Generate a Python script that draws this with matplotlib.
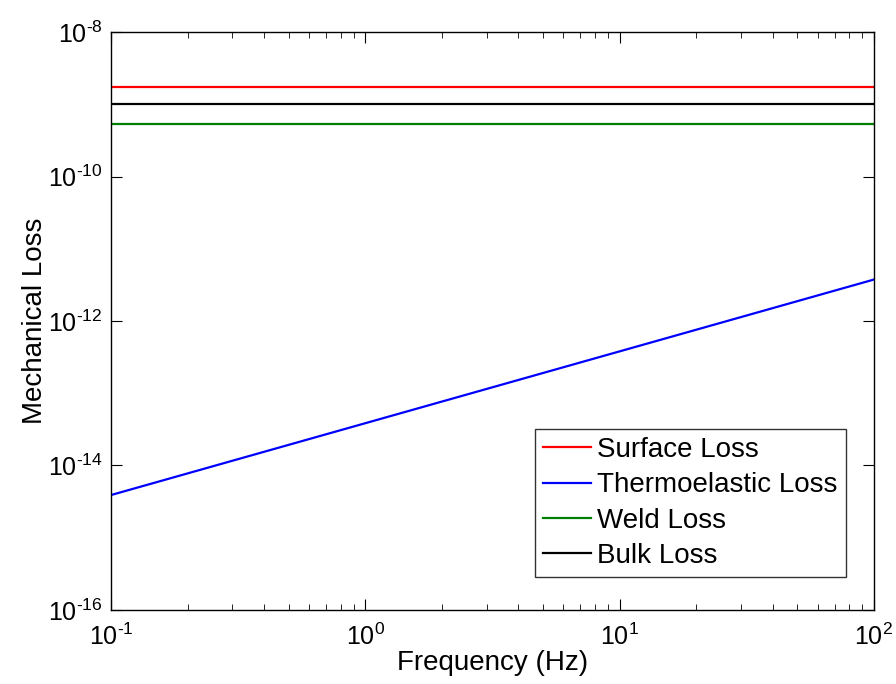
import matplotlib
matplotlib.use("Agg")
import matplotlib.pyplot as plt
from matplotlib.ticker import LogLocator, NullLocator, FuncFormatter
import numpy as np

plt.rcParams["font.family"] = "Liberation Sans"
plt.rcParams["mathtext.fontset"] = "custom"
plt.rcParams["mathtext.rm"] = "Liberation Sans"
plt.rcParams["mathtext.it"] = "Liberation Sans"

freq = [0.1, 1.0, 10.0, 100.0]
surface_loss = [1.73e-9, 1.73e-9, 1.73e-9, 1.73e-9]
thermo_loss = [3.9e-15, 3.85e-14, 3.8e-13, 3.75e-12]
weld_loss = [5.3e-10, 5.3e-10, 5.3e-10, 5.3e-10]
bulk_loss = [1.0e-9, 1.0e-9, 1.0e-9, 1.0e-9]


def pow10(v, pos):
    n = int(round(np.log10(v)))
    return r"$\mathregular{10^{\text{%d}}}$" % n


fig = plt.figure(figsize=(8.96, 6.84), dpi=100)
ax = fig.add_axes([0.1239, 0.1082, 0.8515, 0.845])

ax.loglog(freq, surface_loss, color="red", lw=1.6, label="Surface Loss")
ax.loglog(freq, thermo_loss, color="blue", lw=1.6, label="Thermoelastic Loss")
ax.loglog(freq, weld_loss, color="green", lw=1.6, label="Weld Loss")
ax.loglog(freq, bulk_loss, color="black", lw=1.6, label="Bulk Loss")

ax.set_xlim(0.1, 100)
ax.set_ylim(1e-16, 1e-8)
ax.yaxis.set_major_locator(LogLocator(base=100.0, numticks=10))
ax.yaxis.set_minor_locator(NullLocator())
ax.xaxis.set_major_formatter(FuncFormatter(pow10))
ax.yaxis.set_major_formatter(FuncFormatter(pow10))
ax.tick_params(which="both", direction="in", top=True, right=True, labelsize=18)
ax.tick_params(which="major", length=8, pad=6)
ax.tick_params(axis="x", which="major", pad=10)
ax.tick_params(which="minor", length=4)
for s in ax.spines.values():
    s.set_linewidth(1.0)

ax.set_xlabel("Frequency (Hz)", fontsize=20, labelpad=0)
ax.set_ylabel("Mechanical Loss", fontsize=20, labelpad=0)

leg = ax.legend(loc="lower right", bbox_to_anchor=(0.963, 0.057), fontsize=20,
                borderaxespad=0, frameon=True, fancybox=False, edgecolor="black",
                handlelength=1.75, handletextpad=0.2, labelspacing=0.33,
                borderpad=0.3)
leg.get_frame().set_linewidth(1.0)

fig.savefig("out.png", dpi=100)
